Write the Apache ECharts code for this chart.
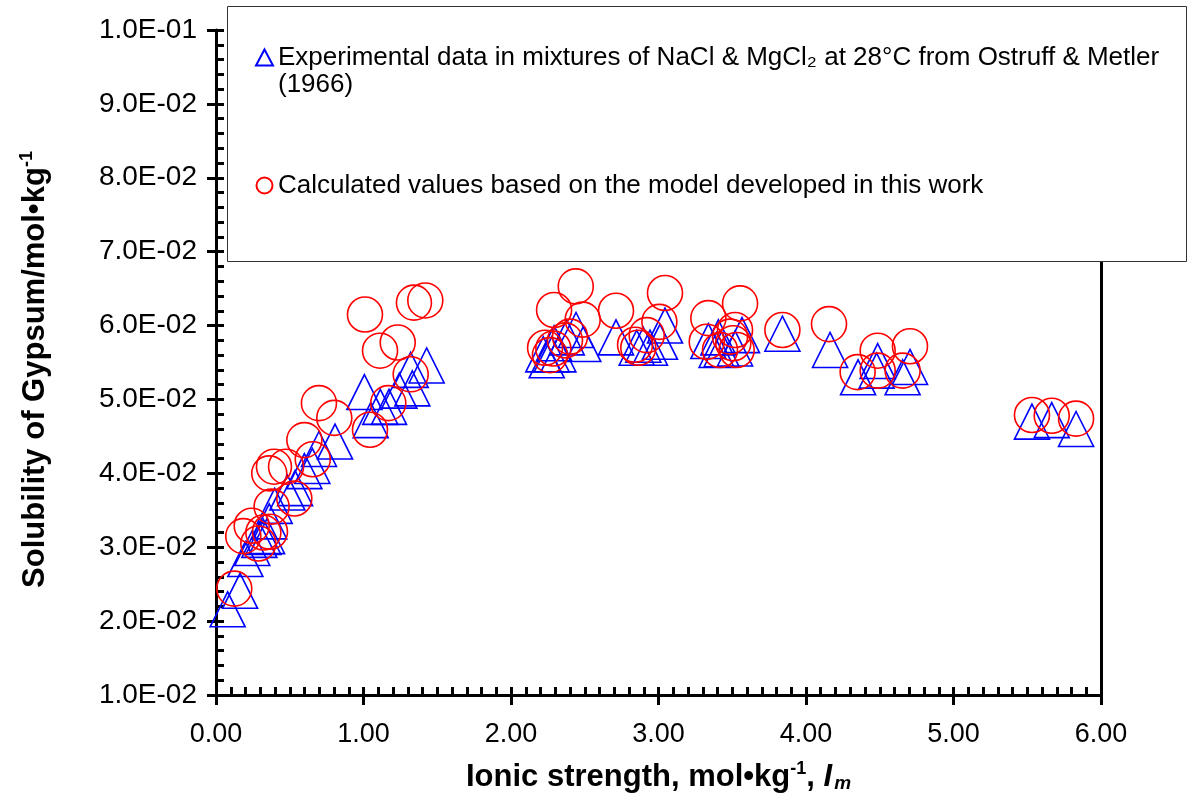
<!DOCTYPE html>
<html>
<head>
<meta charset="utf-8">
<script src="https://cdn.jsdelivr.net/npm/echarts@6/dist/echarts.min.js"></script>
<style>
html,body{margin:0;padding:0;background:#fff;}
#chart{width:1192px;height:809px;}
</style>
</head>
<body>
<div id="chart"></div>
<script>
// Ionic strength (mol/kg) and gypsum solubility (mol/kg)
const expX = [0.079,0.163,0.199,0.246,0.294,0.321,0.346,0.361,0.398,0.484,0.536,0.599,0.653,0.698,0.807,
  1.006,1.049,1.114,1.173,1.243,1.320,1.331,1.428,
  2.219,2.242,2.276,2.292,2.321,2.378,2.441,2.490,2.712,2.852,2.897,2.942,3.010,3.044,
  3.338,3.394,3.406,3.428,3.519,3.566,3.840,4.163,4.353,4.479,4.486,4.655,4.705,
  5.532,5.666,5.831];
const expY = [0.0216,0.0241,0.0284,0.0299,0.0310,0.0314,0.0315,0.0335,0.0356,0.0374,0.0380,0.0403,0.0410,0.0433,0.0443,
  0.0510,0.0472,0.0490,0.0490,0.0512,0.0540,0.0515,0.0546,
  0.0561,0.0553,0.0561,0.0576,0.0561,0.0584,0.0594,0.0575,0.0584,0.0570,0.0574,0.0570,0.0578,0.0600,
  0.0579,0.0567,0.0584,0.0568,0.0569,0.0587,0.0589,0.0567,0.0530,0.0539,0.0552,0.0530,0.0544,
  0.0470,0.0472,0.0460];
const calcX = [0.124,0.185,0.242,0.287,0.321,0.366,0.377,0.361,0.393,0.475,0.531,0.599,0.656,0.698,0.802,
  1.044,1.010,1.112,1.232,1.168,1.320,1.342,1.419,
  2.439,2.292,2.486,2.400,2.366,2.231,2.264,2.287,2.712,3.044,3.006,2.920,2.841,2.863,
  3.338,3.553,3.327,3.417,3.485,3.519,3.507,3.530,3.840,4.156,4.350,4.486,4.486,4.705,4.655,
  5.532,5.666,5.831];
const calcY = [0.0244,0.0315,0.0329,0.0305,0.0320,0.0321,0.0355,0.0400,0.0409,0.0409,0.0366,0.0445,0.0419,0.0495,0.0475,
  0.0459,0.0615,0.0566,0.0577,0.0495,0.0534,0.0631,0.0634,
  0.0653,0.0621,0.0608,0.0585,0.0580,0.0570,0.0560,0.0569,0.0620,0.0644,0.0605,0.0587,0.0574,0.0570,
  0.0610,0.0630,0.0578,0.0567,0.0585,0.0594,0.0576,0.0567,0.0594,0.0602,0.0537,0.0566,0.0539,0.0572,0.0539,
  0.0479,0.0478,0.0474];
const xTicks = {min:0, max:6, step:1};
const yTicks = {min:0.01, max:0.10, step:0.01};
const expName = 'Experimental data in mixtures of NaCl & MgCl\u2082 at 28\u00B0C from Ostruff & Metler\n(1966)';
const calcName = 'Calculated values based on the model developed in this work';

function sciFmt(v){
  const s = v.toExponential(1);
  const parts = s.split('e');
  const n = parseInt(parts[1],10);
  return parts[0] + 'E' + (n<0?'-':'+') + String(Math.abs(n)).padStart(2,'0');
}
const pair = (xs, ys) => xs.map((x,i)=>[x, ys[i]]);
const FONT = 'Liberation Sans, Arial, sans-serif';

const chart = echarts.init(document.getElementById('chart'));
const grid = {left:216, right:91, top:30, bottom:114};
const baseX = {type:'value', min:xTicks.min, max:xTicks.max, interval:xTicks.step, splitLine:{show:false}};
const baseY = {type:'value', min:yTicks.min, max:yTicks.max, interval:yTicks.step, splitLine:{show:false}};
chart.setOption({
  animation:false,
  backgroundColor:'#fff',
  grid: grid,
  xAxis:[
    Object.assign({}, baseX, {
      position:'bottom',
      axisLine:{show:true, onZero:false, lineStyle:{color:'#000', width:3}},
      axisTick:{show:true, inside:false, length:10, lineStyle:{color:'#000', width:3}},
      axisLabel:{show:true, margin:26, color:'#000', fontSize:27, fontFamily:FONT, formatter:v=>v.toFixed(2)},
      name:'{b|Ionic strength, mol\u2022kg}{sup|-1}{b|, }{i|I}{sub|m}',
      nameLocation:'middle', nameGap:65,
      nameTextStyle:{rich:{
        b:{fontSize:31, fontWeight:'bold', fontFamily:FONT, color:'#000'},
        sup:{fontSize:18, fontWeight:'bold', fontFamily:FONT, color:'#000', padding:[0,0,16,0]},
        i:{fontSize:31, fontWeight:'bold', fontStyle:'italic', fontFamily:FONT, color:'#000'},
        sub:{fontSize:19, fontWeight:'bold', fontStyle:'italic', fontFamily:FONT, color:'#000', padding:[14,0,0,2]}
      }}
    }),
    Object.assign({}, baseX, {
      position:'bottom',
      axisLine:{show:false, onZero:false},
      axisTick:{show:true, inside:true, length:8, lineStyle:{color:'#000', width:3}},
      minorTick:{show:true, splitNumber:10, length:8, lineStyle:{color:'#000', width:3}},
      axisLabel:{show:false}
    })
  ],
  yAxis:[
    Object.assign({}, baseY, {
      position:'left',
      axisLine:{show:true, onZero:false, lineStyle:{color:'#000', width:3}},
      axisTick:{show:true, inside:false, length:9, lineStyle:{color:'#000', width:3}},
      axisLabel:{show:true, margin:19, color:'#000', fontSize:28, fontFamily:FONT, formatter:sciFmt},
      name:'{b|Solubility of Gypsum/mol\u2022kg}{sup|-1}',
      nameLocation:'middle', nameGap:164,
      nameTextStyle:{padding:[0,14,0,0], rich:{
        b:{fontSize:31, fontWeight:'bold', fontFamily:FONT, color:'#000'},
        sup:{fontSize:18, fontWeight:'bold', fontFamily:FONT, color:'#000', padding:[0,0,16,0]}
      }}
    }),
    Object.assign({}, baseY, {
      position:'left',
      axisLine:{show:false, onZero:false},
      axisTick:{show:true, inside:true, length:8, lineStyle:{color:'#000', width:3}},
      minorTick:{show:true, splitNumber:5, length:8, lineStyle:{color:'#000', width:3}},
      axisLabel:{show:false}
    }),
    Object.assign({}, baseY, {
      position:'right',
      axisLine:{show:true, onZero:false, lineStyle:{color:'#000', width:3}},
      axisTick:{show:false},
      axisLabel:{show:false}
    })
  ],
  graphic:[{
    type:'rect', z:50,
    shape:{x:227.5, y:6.5, width:959, height:255},
    style:{fill:'#fff', stroke:'#333', lineWidth:1}
  }],
  legend:{
    z:60, orient:'vertical', left:250, top:12, itemGap:74,
    itemWidth:17, itemHeight:16,
    textStyle:{fontSize:26, fontFamily:FONT, color:'#000', lineHeight:27},
    formatter: name => (name === expName ? '\n' + name : name),
    data:[ {name:expName}, {name:calcName} ]
  },
  series:[
    {
      name:expName, type:'scatter', xAxisIndex:0, yAxisIndex:0,
      symbol:'triangle', symbolSize:[35,35],
      itemStyle:{color:'rgba(0,0,0,0)', borderColor:'#0000ff', borderWidth:1.6, opacity:1},
      emphasis:{disabled:true},
      data:pair(expX, expY), z:2
    },
    {
      name:calcName, type:'scatter', xAxisIndex:0, yAxisIndex:0,
      symbol:'circle', symbolSize:35,
      itemStyle:{color:'rgba(0,0,0,0)', borderColor:'#ff0000', borderWidth:1.6, opacity:1},
      emphasis:{disabled:true},
      data:pair(calcX, calcY), z:3
    }
  ]
});
</script>
</body>
</html>
